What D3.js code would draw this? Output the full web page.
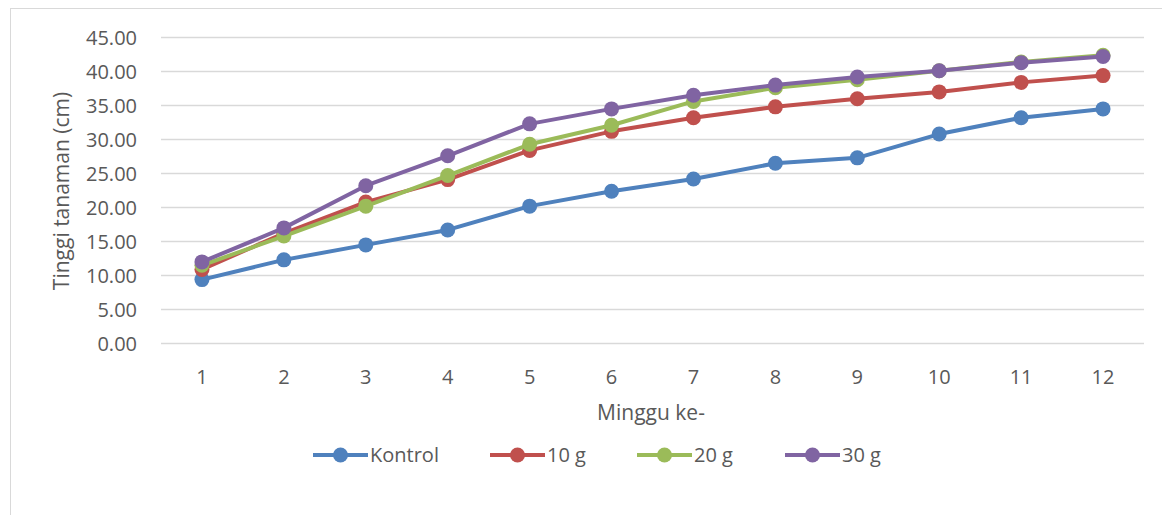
<!DOCTYPE html>
<html>
<head>
<meta charset="utf-8">
<script src="https://cdn.jsdelivr.net/npm/d3@7"></script>
<style>
  body { margin: 0; background: #fff; }
  text { font-family: "Open Sans", sans-serif; fill: #595959; }
</style>
</head>
<body>
<div id="chart"></div>
<script>
var weeks = ["1", "2", "3", "4", "5", "6", "7", "8", "9", "10", "11", "12"];
var seriesNames = ["Kontrol", "10 g", "20 g", "30 g"];
var seriesColors = ["#4F81BD", "#C0504D", "#9BBB59", "#8064A2"];
var kontrol = [9.4, 12.3, 14.5, 16.7, 20.2, 22.4, 24.2, 26.5, 27.3, 30.8, 33.2, 34.5];
var g10 = [10.9, 16.2, 20.8, 24.1, 28.4, 31.2, 33.2, 34.8, 36.0, 37.0, 38.4, 39.4];
var g20 = [11.5, 15.8, 20.2, 24.7, 29.3, 32.1, 35.6, 37.6, 38.8, 40.1, 41.4, 42.4];
var g30 = [12.0, 17.0, 23.2, 27.6, 32.3, 34.5, 36.5, 38.0, 39.2, 40.1, 41.3, 42.2];
var yTicks = [0, 5, 10, 15, 20, 25, 30, 35, 40, 45];

var allSeries = [kontrol, g10, g20, g30];

var svg = d3.select("#chart")
  .append("svg")
  .attr("width", 1162)
  .attr("height", 515);

// chart border
svg.append("rect")
  .attr("x", 10.5).attr("y", 8.5)
  .attr("width", 1160).attr("height", 520)
  .attr("fill", "none")
  .attr("stroke", "#d9d9d9");

var x = d3.scaleBand()
  .domain(weeks)
  .range([161, 1144]);

var y = d3.scaleLinear()
  .domain([0, 45])
  .range([343.5, 37.5]);

// gridlines
svg.append("g")
  .selectAll("line")
  .data(yTicks)
  .enter()
  .append("line")
  .attr("x1", 161).attr("x2", 1144)
  .attr("y1", function(d){ return y(d); })
  .attr("y2", function(d){ return y(d); })
  .attr("stroke", "#d9d9d9")
  .attr("stroke-width", 1.5);

// y tick labels
svg.append("g")
  .selectAll("text")
  .data(yTicks)
  .enter()
  .append("text")
  .attr("x", 137)
  .attr("y", function(d){ return y(d); })
  .attr("dy", "0.35em")
  .attr("text-anchor", "end")
  .attr("font-size", "20px")
  .text(function(d){ return d3.format(".2f")(d); });

// x tick labels
svg.append("g")
  .selectAll("text")
  .data(weeks)
  .enter()
  .append("text")
  .attr("x", function(d){ return x(d) + x.bandwidth() / 2; })
  .attr("y", 377)
  .attr("dy", "0.35em")
  .attr("text-anchor", "middle")
  .attr("font-size", "20px")
  .text(function(d){ return d; });

// axis titles
svg.append("text")
  .attr("transform", "translate(62,191) rotate(-90)")
  .attr("text-anchor", "middle")
  .attr("dy", "0.35em")
  .attr("font-size", "21px")
  .text("Tinggi tanaman (cm)");

svg.append("text")
  .attr("x", 651)
  .attr("y", 413)
  .attr("dy", "0.35em")
  .attr("text-anchor", "middle")
  .attr("font-size", "21px")
  .text("Minggu ke-");

var line = d3.line()
  .x(function(d, i){ return x(weeks[i]) + x.bandwidth() / 2; })
  .y(function(d){ return y(d); });

allSeries.forEach(function(vals, s){
  var g = svg.append("g");
  g.append("path")
    .datum(vals)
    .attr("d", line)
    .attr("fill", "none")
    .attr("stroke", seriesColors[s])
    .attr("stroke-width", 4)
    .attr("stroke-linejoin", "round");
  g.selectAll("circle")
    .data(vals)
    .enter()
    .append("circle")
    .attr("cx", function(d, i){ return x(weeks[i]) + x.bandwidth() / 2; })
    .attr("cy", function(d){ return y(d); })
    .attr("r", 7.5)
    .attr("fill", seriesColors[s]);
});

// legend
var legendX = [313, 490, 637, 785];
var legend = svg.append("g")
  .selectAll("g")
  .data(seriesNames)
  .enter()
  .append("g")
  .attr("transform", function(d, i){ return "translate(" + legendX[i] + ",455)"; });

legend.append("line")
  .attr("x1", 0).attr("x2", 55)
  .attr("stroke", function(d, i){ return seriesColors[i]; })
  .attr("stroke-width", 4);

legend.append("circle")
  .attr("cx", 27.5)
  .attr("r", 7.5)
  .attr("fill", function(d, i){ return seriesColors[i]; });

legend.append("text")
  .attr("x", 57)
  .attr("dy", "0.35em")
  .attr("font-size", "20px")
  .text(function(d){ return d; });
</script>
</body>
</html>
